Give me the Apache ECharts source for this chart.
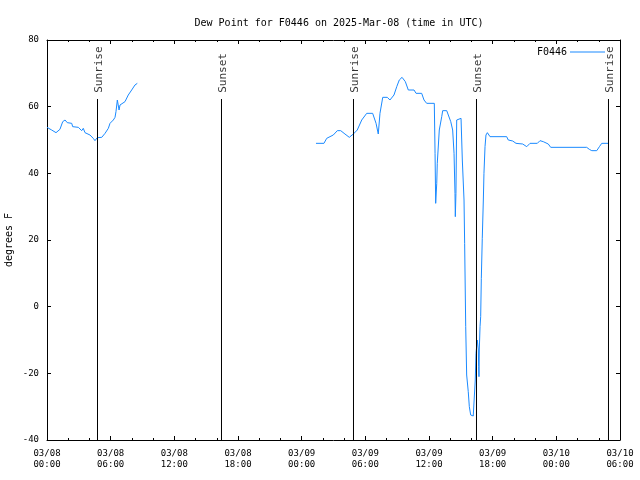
<!DOCTYPE html>
<html>
<head>
<meta charset="utf-8">
<script src="https://cdn.jsdelivr.net/npm/echarts@6/dist/echarts.min.js"></script>
<style>html,body{margin:0;padding:0;background:#fff;}#c{width:640px;height:480px;}</style>
</head>
<body>
<div id="c"></div>
<script>
// hours since 2025-03-08 00:00 UTC
var seg1Hours = [0.00,0.44,0.85,1.22,1.48,1.70,1.91,2.33,2.42,2.95,3.27,3.42,3.58,4.05,4.36,4.52,4.74,5.16,5.47,5.78,5.94,6.25,6.41,6.50,6.63,6.79,6.88,7.04,7.35,7.66,7.98,8.29,8.51];
var seg1Values = [53.8,53.0,52.2,53.2,55.5,56.0,55.2,55.0,54.0,53.8,52.8,53.5,52.2,51.5,50.5,49.8,50.7,50.8,52.0,53.5,55.0,56.0,56.8,58.5,62.0,59.0,60.5,60.0,61.5,63.5,65.0,66.5,67.0];
var seg2Hours = [25.35,26.10,26.36,26.67,26.98,27.36,27.68,28.08,28.49,28.87,29.24,29.66,30.13,30.69,31.01,31.22,31.38,31.64,32.07,32.32,32.70,32.96,33.20,33.46,33.77,34.05,34.59,34.78,35.31,35.53,35.78,36.50,36.57,36.63,36.73,36.78,36.97,37.20,37.29,37.67,37.82,38.05,38.23,38.36,38.45,38.48,38.54,38.61,38.70,39.02,39.14,39.30,39.36,39.46,39.55,39.70,39.80,39.93,40.17,40.27,40.36,40.43,40.55,40.65,40.68,40.71,40.74,40.81,40.87,40.93,41.02,41.12,41.18,41.28,41.37,41.50,41.75,43.32,43.47,43.89,44.20,44.83,45.21,45.36,45.52,46.21,46.46,46.77,47.24,47.47,50.86,51.11,51.34,51.81,52.06,52.28,52.90];
var seg2Values = [49.0,49.0,50.5,51.0,51.5,52.8,52.8,51.8,50.8,51.8,53.0,56.0,58.0,58.0,55.0,51.8,58.0,62.8,62.8,62.0,63.5,66.0,68.0,68.8,67.5,65.0,65.0,64.0,64.0,62.0,61.0,61.0,46.0,31.0,37.0,43.0,53.0,57.0,58.8,58.8,57.5,55.5,53.0,46.0,34.0,27.0,34.0,56.0,56.5,56.5,44.0,32.0,19.0,-6.0,-20.5,-25.5,-30.0,-32.5,-32.8,-33.2,-22.0,-14.0,-10.0,-13.0,-18.0,-21.0,-13.0,-6.0,-3.0,8.5,20.5,32.0,40.0,48.0,51.5,52.2,51.0,51.0,50.0,49.7,49.0,48.8,48.0,48.5,49.0,49.0,49.8,49.5,48.8,47.8,47.8,47.2,46.8,46.8,48.0,49.0,49.0];
var sunHours = [4.7592, 16.4450, 28.8848, 40.4764, 52.9162];
var sunNames = ['Sunrise', 'Sunset', 'Sunrise', 'Sunset', 'Sunrise'];
var yTicks = [-40, -20, 0, 20, 40, 60, 80];
var seriesName = 'F0446';

var SUN_TOP = 62.3, SUN_LABEL = 64.0;
var FONT = 'DejaVu Sans Mono';

var dew = [];
seg1Hours.forEach(function (h, i) { dew.push([h, seg1Values[i]]); });
dew.push([8.9, '-']);
seg2Hours.forEach(function (h, i) { dew.push([h, seg2Values[i]]); });

var sunLines = [];
sunHours.forEach(function (h) { sunLines.push([h, -40], [h, SUN_TOP], [h, '-']); });
var sunLabelPts = sunHours.map(function (h, i) { return { value: [h, SUN_LABEL], name: sunNames[i] }; });

function fmtX(v) {
  var day = 8 + Math.floor(v / 24);
  var hh = v % 24;
  return '03/' + (day < 10 ? '0' : '') + day + '\n' + (hh < 10 ? '0' : '') + hh + ':00';
}

var chart = echarts.init(document.getElementById('c'));
var xBase = { type: 'value', min: 0, max: 54, interval: 6, splitLine: { show: false },
  axisLine: { show: true, onZero: false, lineStyle: { color: '#000', width: 1 } },
  axisTick: { show: true, inside: true, length: 4, lineStyle: { color: '#000' } },
  minorTick: { show: true, splitNumber: 3, length: 2, lineStyle: { color: '#000' } } };
var yBase = { type: 'value', min: -40, max: 80, interval: 20, splitLine: { show: false },
  axisLine: { show: true, onZero: false, lineStyle: { color: '#000', width: 1 } },
  axisTick: { show: true, inside: true, length: 4, lineStyle: { color: '#000' } } };

chart.setOption({
  animation: false,
  backgroundColor: '#fff',
  title: { text: 'Dew Point for F0446 on 2025-Mar-08 (time in UTC)', left: 334, textAlign: 'center', top: 13,
    textStyle: { fontFamily: FONT, fontSize: 10, fontWeight: 'normal', color: '#000' } },
  legend: { data: [seriesName], right: 30, top: 42, align: 'right', icon: 'rect', itemWidth: 35, itemHeight: 1,
    itemGap: 4, textStyle: { fontFamily: FONT, fontSize: 10, color: '#000', padding: [0, -2, 0, 0] } },
  grid: { left: 47, right: 20, top: 40, bottom: 40, containLabel: false, outerBoundsMode: 'none' },
  xAxis: [
    Object.assign({}, xBase, { position: 'bottom',
      axisLabel: { formatter: fmtX, fontFamily: FONT, fontSize: 9, color: '#000', margin: 8, lineHeight: 11, showMaxLabel: true, showMinLabel: true } }),
    Object.assign({}, xBase, { position: 'top', axisLabel: { show: false } })
  ],
  yAxis: [
    Object.assign({}, yBase, { position: 'left', name: 'degrees F', nameLocation: 'middle', nameGap: 33, nameMoveOverlap: false,
      nameTextStyle: { fontFamily: FONT, fontSize: 10, color: '#000' },
      axisLabel: { fontFamily: FONT, fontSize: 9, color: '#000', margin: 8,
        formatter: function (v) { return yTicks.indexOf(v) >= 0 ? String(v) : ''; } } }),
    Object.assign({}, yBase, { position: 'right', axisLabel: { show: false } })
  ],
  series: [
    { name: seriesName, type: 'line', data: dew, showSymbol: false, symbol: 'none', connectNulls: false,
      lineStyle: { color: '#1a8aff', width: 1 }, itemStyle: { color: '#1a8aff' } },
    { name: 'sun', type: 'line', data: sunLines, showSymbol: false, symbol: 'none', connectNulls: false,
      lineStyle: { color: '#000', width: 1 }, z: 5 },
    { name: 'sunlabels', type: 'scatter', data: sunLabelPts, symbolSize: 1, itemStyle: { color: 'rgba(0,0,0,0)' },
      label: { show: true, position: [2, 0], align: 'left', verticalAlign: 'middle', rotate: 90,
        formatter: function (p) { return p.name; }, fontFamily: FONT, fontSize: 11, color: '#000' }, z: 6 }
  ]
});
</script>
</body>
</html>
